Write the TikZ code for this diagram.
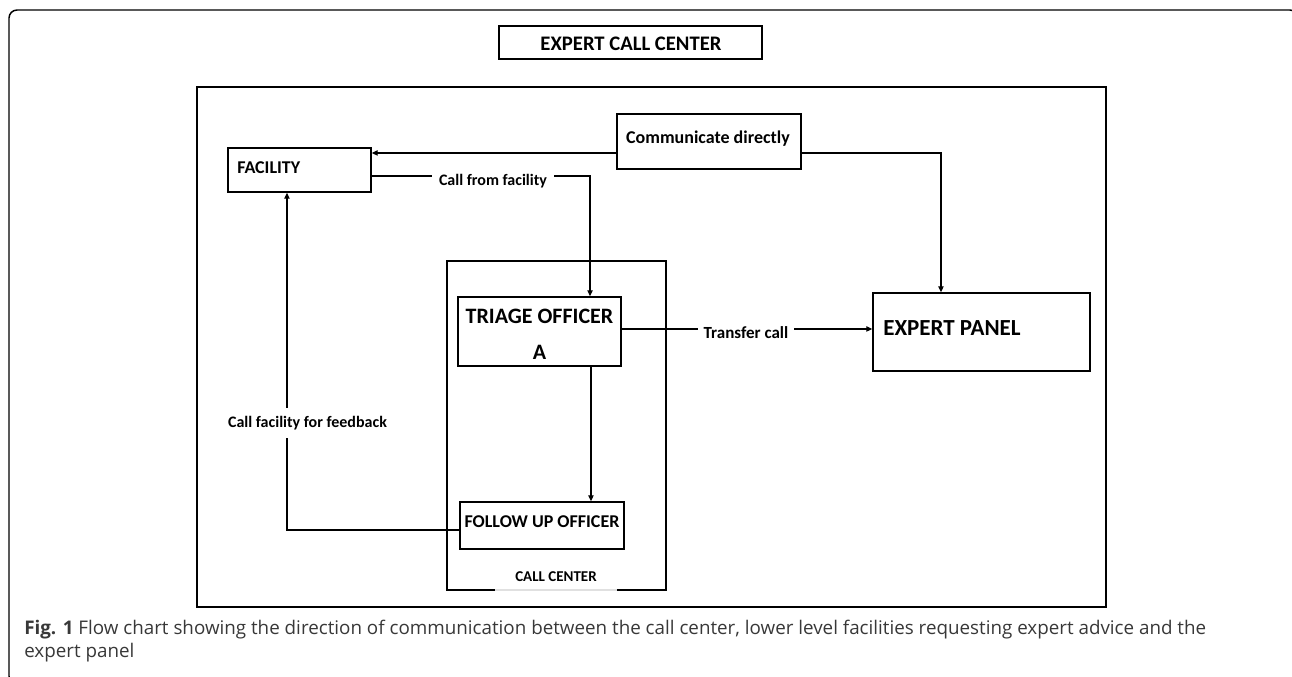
\documentclass[tikz,border=0pt]{standalone}
\usepackage{fontspec}
\setmainfont{Carlito}
\newfontfamily\capfont{Open Sans}
\usetikzlibrary{fit,arrows.meta}
\begin{document}
\begin{tikzpicture}[x=0.75pt,y=-0.75pt,
  box/.style={draw, line width=1.1pt, inner sep=0pt},
  conn/.style={line width=0.9pt, -{Triangle[length=4.5pt,width=4pt]}},
  txt/.style={inner sep=0pt, anchor=base, font=\bfseries},
  lbl/.style={fill=white, inner xsep=4pt, inner ysep=3pt, anchor=base, font=\bfseries},
  captext/.style={inner sep=0pt, anchor=base west, text=black!78, font=\capfont\fontsize{14.1}{17}\selectfont}]
\useasboundingbox (0,0) rectangle (1292,676);
% outer frame
\begin{scope}
\clip (0,0) rectangle (1292,676);
\draw[line width=1.1pt, rounded corners=6pt] (60,684) -- (9,684) -- (9,10) -- (1298,10) -- (1298,700);
\end{scope}
% boxes
\node[box, fit={(499,26)(762,59)}] (title) {};
\node[txt, font=\fontsize{15.5}{17}\selectfont\bfseries] (titletext) at (631,50) {EXPERT CALL CENTER};
\node[box, fit={(197,87)(1106,607)}] (main) {};
\node[box, fit={(447,261)(666,590)}] (cc) {};
\draw[black!12, line width=1.3pt] (495,590) -- (617,590);
\node[txt, font=\fontsize{11.25}{13}\selectfont\bfseries] (cctext) at (556,581) {CALL CENTER};
\node[box, fit={(617,114)(801,169)}] (comm) {};
\node[txt, font=\fontsize{13.5}{15}\selectfont\bfseries] (commtext) at (708,143) {Communicate directly};
\node[box, fit={(228,148)(371,192)}] (fac) {};
\node[txt, anchor=base west, font=\fontsize{13.5}{15}\selectfont\bfseries] (factext) at (237,173) {FACILITY};
\node[box, fit={(458,297)(621,366)}] (triage) {};
\node[txt, font=\fontsize{16.5}{18}\selectfont\bfseries] (triagetext) at (539.5,323) {TRIAGE OFFICER};
\node[txt, font=\fontsize{16.5}{18}\selectfont\bfseries] (triagea) at (539.5,359) {A};
\node[box, fit={(873,293)(1090,371)}] (ep) {};
\node[txt, anchor=base west, font=\fontsize{17.25}{19}\selectfont\bfseries] (eptext) at (883,335) {EXPERT PANEL};
\node[box, fit={(460,502)(624,549)}] (follow) {};
\node[txt, font=\fontsize{13.5}{15}\selectfont\bfseries] (followtext) at (542,527) {FOLLOW UP OFFICER};
% connectors
\coordinate (c1) at ([yshift=-8.6pt]comm.west);
\draw[conn] (c1) -- (c1 -| fac.east);
\coordinate (c2) at ([yshift=-8.6pt]comm.east);
\draw[conn] (c2) -| ([xshift=-30.4pt]ep.north);
\coordinate (c3) at ([yshift=-4.5pt]fac.east);
\draw[conn] (c3) -| ([xshift=37.9pt]triage.north);
\coordinate (c4) at ([yshift=1.9pt]triage.east);
\draw[conn] (c4) -- (c4 -| ep.west);
\draw[conn] ([xshift=38.6pt]triage.south) -- ([xshift=38.6pt]triage.south |- follow.north);
\draw[conn] ([yshift=-3.4pt]follow.west) -| ([xshift=-9.4pt]fac.south);
% connector labels
\node[lbl, inner xsep=5pt, font=\fontsize{12}{14}\selectfont\bfseries] (l1) at (493,185) {Call from facility};
\node[lbl, inner xsep=4pt, font=\fontsize{12.75}{14}\selectfont\bfseries] (l2) at (746,338) {Transfer call};
\node[lbl, inner xsep=2pt, inner ysep=6pt, font=\fontsize{12}{14}\selectfont\bfseries] (l3) at (307.5,427) {Call facility for feedback};
% caption
\node[captext] (cap1) at (24,634) {\textbf{Fig. 1} Flow chart showing the direction of communication between the call center, lower level facilities requesting expert advice and the};
\node[captext] (cap2) at (24,657) {expert panel};
\end{tikzpicture}
\end{document}
